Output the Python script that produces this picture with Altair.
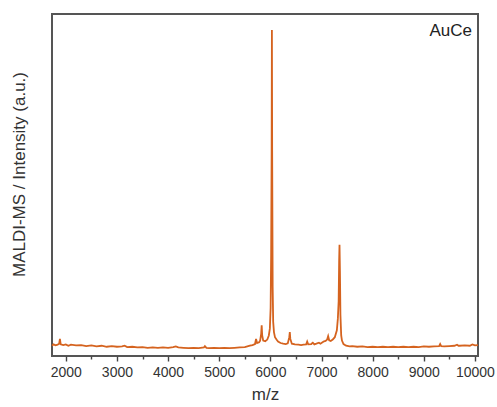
import altair as alt
import pandas as pd

mz = [1730, 1760, 1800, 1840, 1870, 1885, 1900, 1950, 2000, 2050, 2100, 2200, 2300, 2400, 2500,
      2600, 2700, 2800, 2900, 3000, 3100, 3150, 3200, 3300, 3400, 3500, 3600, 3700, 3800, 3900,
      4000, 4100, 4150, 4200, 4300, 4400, 4500, 4600, 4700, 4720, 4750, 4800, 4900, 5000, 5100,
      5200, 5300, 5400, 5500, 5550, 5600, 5650, 5700, 5720, 5740, 5780, 5800, 5820, 5830, 5840,
      5860, 5900, 5940, 5970, 5990, 6005, 6015, 6025, 6030, 6035, 6045, 6055, 6070, 6090, 6120,
      6150, 6200, 6250, 6300, 6340, 6370, 6380, 6390, 6420, 6480, 6550, 6600, 6650, 6700, 6720,
      6740, 6800, 6830, 6860, 6900, 6950, 6980, 7020, 7050, 7080, 7110, 7130, 7150, 7180, 7220,
      7260, 7300, 7320, 7335, 7345, 7352, 7360, 7370, 7385, 7400, 7430, 7480, 7550, 7600, 7700,
      7800, 7900, 8000, 8100, 8200, 8300, 8400, 8500, 8600, 8700, 8800, 8900, 9000, 9100, 9200,
      9300, 9320, 9340, 9400, 9500, 9600, 9650, 9680, 9700, 9800, 9900, 9950, 10000, 10060]
intensity = [3.0, 3.4, 3.1, 3.3, 3.6, 5.0, 3.4, 3.2, 3.4, 3.0, 3.3, 3.1, 3.2, 2.9, 3.1,
             2.8, 3.0, 2.7, 2.9, 2.7, 2.8, 3.0, 2.6, 2.7, 2.5, 2.6, 2.4, 2.5, 2.4, 2.5,
             2.4, 2.6, 2.8, 2.5, 2.4, 2.3, 2.4, 2.3, 2.5, 2.9, 2.4, 2.3, 2.4, 2.3, 2.4,
             2.3, 2.4, 2.5, 2.6, 2.8, 3.0, 3.2, 3.5, 5.0, 3.8, 4.0, 4.5, 6.5, 9.0, 6.0,
             4.5, 4.3, 4.8, 6.0, 8.0, 14.0, 29.5, 60.0, 95.3, 60.0, 20.0, 10.0, 7.0, 5.5, 4.8,
             4.2, 3.8, 3.6, 3.5, 3.7, 5.5, 7.0, 5.0, 3.6, 3.4, 3.3, 3.2, 3.3, 3.4, 4.2,
             3.4, 3.5, 3.9, 3.4, 3.6, 3.9, 3.6, 4.0, 4.3, 4.4, 4.8, 5.8, 4.6, 4.4, 4.8,
             5.5, 7.5, 11.0, 16.0, 28.0, 32.5, 25.0, 12.0, 6.0, 4.5, 3.5, 3.0, 2.8, 2.9, 2.7,
             2.8, 2.6, 2.7, 2.6, 2.7, 2.6, 2.7, 2.6, 2.7, 2.6, 2.7, 2.6, 2.8, 2.7, 2.8,
             2.9, 3.5, 2.9, 2.8, 2.9, 3.0, 3.3, 3.0, 3.0, 3.1, 3.0, 3.4, 3.1, 3.2]

major_ticks = [2000, 3000, 4000, 5000, 6000, 7000, 8000, 9000, 10000]
minor_ticks = [2500, 3500, 4500, 5500, 6500, 7500, 8500, 9500]
sample_label = "AuCe"

df = pd.DataFrame({"mz": mz, "intensity": intensity})

FONT = "Liberation Sans"
COLOR = "#D5631F"

xscale = alt.Scale(domain=[1730, 10060], nice=False, zero=False)
yscale = alt.Scale(domain=[0, 100], nice=False)

line = alt.Chart(df).mark_line(color=COLOR, strokeWidth=1.8, interpolate="linear").encode(
    x=alt.X("mz:Q", scale=xscale,
            axis=alt.Axis(values=major_ticks, title="m/z", orient="bottom", domain=False,
                          grid=False, tickSize=5, tickWidth=1.4, tickColor="#444",
                          labelFont=FONT, labelFontSize=14, labelColor="#333", labelPadding=4,
                          format="d", labelOverlap=False, labelFlush=False,
                          titleFont=FONT, titleFontSize=17, titleFontWeight="normal",
                          titleColor="#333", titlePadding=7)),
    y=alt.Y("intensity:Q", scale=yscale,
            axis=alt.Axis(title="MALDI-MS / Intensity (a.u.)", labels=False, ticks=False,
                          domain=False, grid=False, titleFont=FONT, titleFontSize=17,
                          titleFontWeight="normal", titleColor="#333", titlePadding=24,
                          titleY=160)),
)

minor = alt.Chart(pd.DataFrame({"mz": minor_ticks})).mark_point(opacity=0).encode(
    x=alt.X("mz:Q", scale=xscale,
            axis=alt.Axis(values=minor_ticks, title=None, orient="bottom", domain=False,
                          grid=False, labels=False, tickSize=3, tickWidth=1.4,
                          tickColor="#444")),
)

label = alt.Chart(pd.DataFrame({"t": [sample_label]})).mark_text(
    font=FONT, fontSize=17, color="#222", align="right", baseline="middle"
).encode(text="t:N", x=alt.value(420), y=alt.value(17))

chart = alt.layer(line, minor, label).resolve_axis(x="independent").properties(
    width=426, height=342,
    padding={"left": 52, "top": 14, "right": 19, "bottom": 51},
    autosize=alt.AutoSizeParams(type="none"),
    background="white",
).configure_view(stroke="#555", strokeWidth=2)

chart.save("out.html", embed_options={"renderer": "svg", "actions": False})
